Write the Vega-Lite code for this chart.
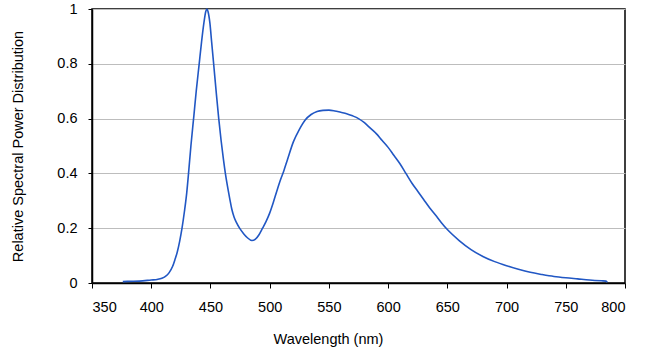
{
  "$schema": "https://vega.github.io/schema/vega-lite/v6.json",
  "autosize": "none",
  "width": 533,
  "height": 274,
  "padding": {"left": 92, "top": 9, "right": 24, "bottom": 71},
  "background": "white",
  "config": {
    "font": "Liberation Sans",
    "view": {"stroke": "#000000", "strokeWidth": 1.5},
    "axis": {"labelFont": "Liberation Sans", "titleFont": "Liberation Sans", "labelColor": "#000000", "titleColor": "#000000", "labelFontSize": 14.5, "titleFontSize": 14.5, "titleFontWeight": "normal", "domainColor": "#000000", "domainWidth": 1.5, "tickColor": "#000000"}
  },
  "data": {"values": [
    {"w": 376, "p": 0.005}, {"w": 380, "p": 0.006}, {"w": 390, "p": 0.007}, {"w": 400, "p": 0.011},
    {"w": 405, "p": 0.013}, {"w": 409, "p": 0.017}, {"w": 412, "p": 0.024}, {"w": 415, "p": 0.037},
    {"w": 418, "p": 0.06}, {"w": 420, "p": 0.085}, {"w": 422, "p": 0.113}, {"w": 424, "p": 0.152},
    {"w": 426, "p": 0.2}, {"w": 428, "p": 0.26}, {"w": 430, "p": 0.33}, {"w": 431.5, "p": 0.4},
    {"w": 433.5, "p": 0.5}, {"w": 436, "p": 0.61}, {"w": 438, "p": 0.7}, {"w": 440.5, "p": 0.8},
    {"w": 442.5, "p": 0.88}, {"w": 444.5, "p": 0.95}, {"w": 446, "p": 0.99}, {"w": 447, "p": 1.0},
    {"w": 448, "p": 0.99}, {"w": 449.5, "p": 0.95}, {"w": 451, "p": 0.88}, {"w": 452.7, "p": 0.8},
    {"w": 455, "p": 0.69}, {"w": 457, "p": 0.6}, {"w": 459, "p": 0.52}, {"w": 461, "p": 0.45},
    {"w": 462.6, "p": 0.4}, {"w": 464.3, "p": 0.355}, {"w": 466.2, "p": 0.31}, {"w": 468, "p": 0.27},
    {"w": 470, "p": 0.24}, {"w": 472, "p": 0.22}, {"w": 474.6, "p": 0.2}, {"w": 478, "p": 0.18},
    {"w": 481, "p": 0.166}, {"w": 485, "p": 0.155}, {"w": 488, "p": 0.16}, {"w": 491, "p": 0.176},
    {"w": 494, "p": 0.2}, {"w": 497, "p": 0.225}, {"w": 500, "p": 0.255}, {"w": 503, "p": 0.293},
    {"w": 506, "p": 0.335}, {"w": 509, "p": 0.375}, {"w": 512, "p": 0.41}, {"w": 515, "p": 0.45},
    {"w": 520, "p": 0.515}, {"w": 525, "p": 0.56}, {"w": 530, "p": 0.595}, {"w": 535, "p": 0.615},
    {"w": 540, "p": 0.626}, {"w": 545, "p": 0.63}, {"w": 550, "p": 0.631}, {"w": 555, "p": 0.628},
    {"w": 560, "p": 0.623}, {"w": 565, "p": 0.618}, {"w": 570, "p": 0.61}, {"w": 575, "p": 0.6},
    {"w": 580, "p": 0.585}, {"w": 585, "p": 0.565}, {"w": 590, "p": 0.545}, {"w": 595, "p": 0.52},
    {"w": 600, "p": 0.495}, {"w": 605, "p": 0.465}, {"w": 610, "p": 0.435}, {"w": 615, "p": 0.4},
    {"w": 620, "p": 0.365}, {"w": 625, "p": 0.335}, {"w": 630, "p": 0.305}, {"w": 635, "p": 0.275},
    {"w": 640, "p": 0.248}, {"w": 645, "p": 0.22}, {"w": 650, "p": 0.195}, {"w": 660, "p": 0.155},
    {"w": 670, "p": 0.122}, {"w": 680, "p": 0.097}, {"w": 690, "p": 0.078}, {"w": 700, "p": 0.063},
    {"w": 710, "p": 0.05}, {"w": 720, "p": 0.039}, {"w": 730, "p": 0.031}, {"w": 740, "p": 0.024},
    {"w": 750, "p": 0.019}, {"w": 760, "p": 0.015}, {"w": 770, "p": 0.011}, {"w": 780, "p": 0.008},
    {"w": 784, "p": 0.007}, {"w": 785, "p": 0.003}
  ]},
  "mark": {"type": "line", "color": "#2157c4", "strokeWidth": 1.6, "interpolate": "monotone"},
  "encoding": {
    "x": {"field": "w", "type": "quantitative", "scale": {"domain": [350, 800], "nice": false},
      "axis": {"values": [350, 400, 450, 500, 550, 600, 650, 700, 750, 800], "grid": false, "tickSize": 5, "labelPadding": 12, "title": "Wavelength (nm)", "titlePadding": 19, "titleX": 236, "titleAnchor": "middle", "titleAlign": "center"}},
    "y": {"field": "p", "type": "quantitative", "scale": {"domain": [0, 1], "nice": false},
      "axis": {"values": [0, 0.2, 0.4, 0.6, 0.8, 1], "format": "~g", "grid": true, "gridColor": "#bdbdbd", "gridWidth": 1.2, "gridOpacity": 1, "tickSize": 4, "labelPadding": 11, "title": "Relative Spectral Power Distribution", "titlePadding": 31}}
  }
}
